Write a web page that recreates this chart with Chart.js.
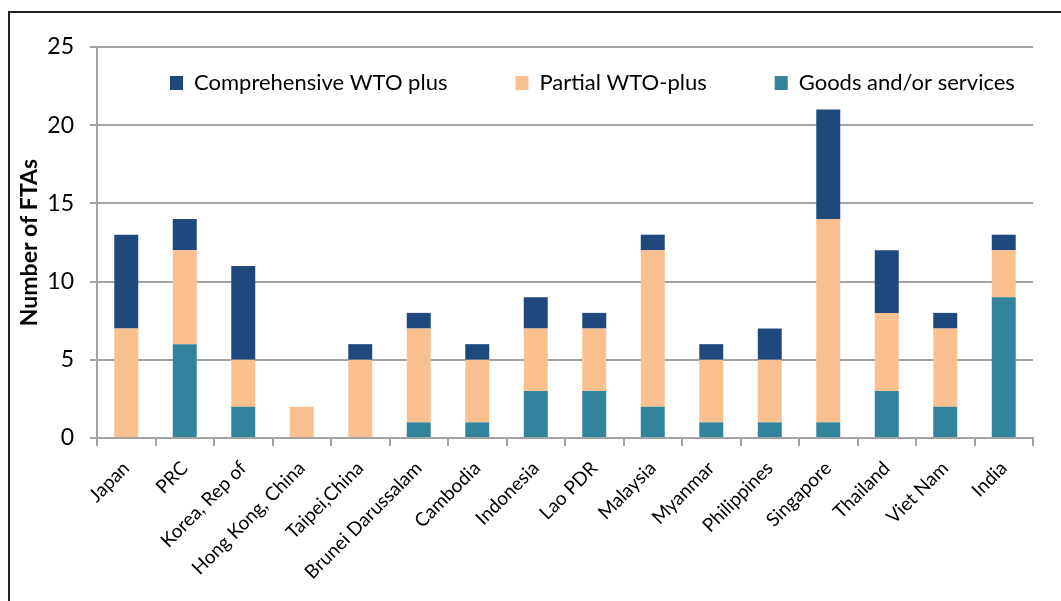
<!DOCTYPE html>
<html>
<head>
<meta charset="utf-8">
<script src="https://cdn.jsdelivr.net/npm/chart.js@4.4.1/dist/chart.umd.min.js"></script>
<style>
  html, body { margin: 0; padding: 0; background: #fff; overflow: hidden; }
  #wrap { position: relative; width: 1061px; height: 601px; }
  #frame { position: absolute; left: 8px; top: 11px; width: 1100px; height: 700px; border: 2px solid #222; box-sizing: border-box; }
  canvas { position: absolute; left: 0; top: 0; }
</style>
</head>
<body>
<div id="wrap">
  <div id="frame"></div>
  <canvas id="c" width="1061" height="601"></canvas>
</div>
<script>
const categories = ["Japan", "PRC", "Korea, Rep of", "Hong Kong, China", "Taipei,China", "Brunei Darussalam", "Cambodia", "Indonesia", "Lao PDR", "Malaysia", "Myanmar", "Philippines", "Singapore", "Thailand", "Viet Nam", "India"];
const goodsServices = [0, 6, 2, 0, 0, 1, 1, 3, 3, 2, 1, 1, 1, 3, 2, 9];
const partialWTOplus = [7, 6, 3, 2, 5, 6, 4, 4, 4, 10, 4, 4, 13, 5, 5, 3];
const comprehensiveWTOplus = [6, 2, 6, 0, 1, 1, 1, 2, 1, 1, 1, 2, 7, 4, 1, 1];
const yTicks = [0, 5, 10, 15, 20, 25];

const FONT = "Lato, 'Open Sans', sans-serif";
const GRID = "#a3a3a3";

// Move the (horizontal, top) legend into the plot area as in the reference
const legendPlace = {
  id: 'legendPlace',
  afterLayout(chart) {
    const lg = chart.legend;
    if (!lg) return;
    const lab = lg.options.labels;
    const pad = lab.padding;
    const fullH = lab.font.size + pad + 10;
    lg.left = 170 - pad;
    lg.top = 83 - pad - lab.font.size / 2;
    lg.right = lg.left + 1400;
    lg.bottom = lg.top + fullH;
    lg.width = 1400;
    lg.height = fullH;
  }
};

new Chart(document.getElementById('c'), {
  type: 'bar',
  data: {
    labels: categories,
    datasets: [
      { label: 'Goods and/or services', data: goodsServices, backgroundColor: '#31849B' },
      { label: 'Partial WTO-plus', data: partialWTOplus, backgroundColor: '#FAC090' },
      { label: 'Comprehensive WTO plus', data: comprehensiveWTOplus, backgroundColor: '#1F497D' }
    ]
  },
  plugins: [legendPlace],
  options: {
    responsive: false,
    animation: false,
    devicePixelRatio: 1,
    layout: { padding: { left: 0, right: 28, top: 46, bottom: 0 } },
    datasets: { bar: { barPercentage: 0.41, categoryPercentage: 1.0 } },
    plugins: {
      tooltip: { enabled: false },
      legend: {
        position: 'top',
        align: 'start',
        reverse: true,
        maxHeight: 1,
        labels: {
          color: '#000',
          font: { family: FONT, size: 22 },
          boxWidth: 13,
          boxHeight: 14,
          padding: 68
        }
      }
    },
    scales: {
      x: {
        stacked: true,
        offset: true,
        grid: { display: true, drawOnChartArea: false, offset: true, color: GRID, lineWidth: 2, tickLength: 8, tickColor: GRID },
        border: { color: GRID, width: 2 },
        ticks: { color: '#000', font: { family: FONT, size: 19 }, minRotation: 45, maxRotation: 45, autoSkip: false, padding: 11 },
        afterFit(scale) { scale.height = 601 - 438; }
      },
      y: {
        stacked: true,
        min: 0, max: 25,
        afterBuildTicks(scale) { scale.ticks = yTicks.map(v => ({ value: v })); },
        grid: { color: GRID, lineWidth: 2, tickLength: 7, tickColor: GRID },
        border: { color: GRID, width: 2 },
        ticks: { color: '#000', font: { family: FONT, size: 23 }, padding: 16 },
        title: { display: true, text: 'Number of FTAs', color: '#000', font: { family: FONT, size: 23, weight: 'bold' }, padding: { top: 16, bottom: 0 } },
        afterFit(scale) { scale.width = 97; }
      }
    }
  }
});
</script>
</body>
</html>
